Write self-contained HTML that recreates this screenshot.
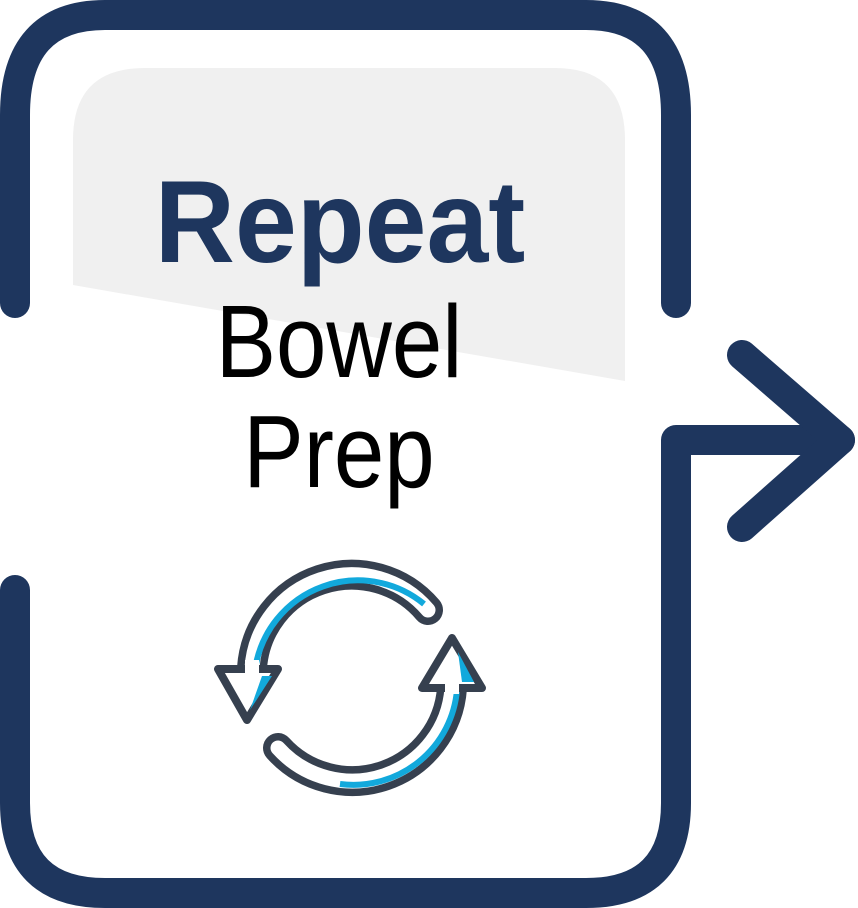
<!DOCTYPE html>
<html><head><meta charset="utf-8"><style>
html,body{margin:0;padding:0;background:#fff;}
svg{display:block;}
text{font-family:"Liberation Sans",sans-serif;}
</style></head><body>
<svg width="858" height="908" viewBox="0 0 858 908" xmlns="http://www.w3.org/2000/svg">
<path d="M73 140 Q73 68 145 68 L555 68 Q625 68 625 140 L625 381 L73 285 Z" fill="#f0f0f0"/>
<g fill="none" stroke="#1e365e" stroke-width="30" stroke-linecap="round" stroke-linejoin="round">
<path d="M15 303 L15 115 Q15 15 105 15 L586 15 Q676 15 676 115 L676 303"/>
<path d="M15 590 L15 803 Q15 893 105 893 L586 893 Q676 893 676 803 L676 440 L840 440"/>
<path d="M742 355 L840 440 L742 527"/>
</g>
<text x="340" y="262" text-anchor="middle" font-size="117" font-weight="bold" fill="#1e365e" transform="translate(340 0) scale(0.95 1) translate(-340 0)">Repeat</text>
<text x="339" y="377" text-anchor="middle" font-size="103" fill="#000" transform="translate(339 0) scale(0.88 1) translate(-339 0)">Bowel</text>
<text x="339" y="487" text-anchor="middle" font-size="103" fill="#000" transform="translate(339 0) scale(0.88 1) translate(-339 0)">Prep</text>
<g fill="none" stroke-linecap="round">
<path d="M428 610 A100 100 0 0 0 252 668" stroke="#36404f" stroke-width="30"/>
<path d="M428 610 A100 100 0 0 0 252 668" stroke="#fff" stroke-width="15"/>
<path d="M424 604 A104 104 0 0 0 256 664" stroke="#12a9dc" stroke-width="6" stroke-linecap="butt"/>
<path d="M278 748 A100 100 0 0 0 452 688" stroke="#36404f" stroke-width="30"/>
<path d="M278 748 A100 100 0 0 0 452 688" stroke="#fff" stroke-width="15"/>
<path d="M340 784 A104 104 0 0 0 457 690" stroke="#12a9dc" stroke-width="6" stroke-linecap="butt"/>
</g>
<g stroke="#36404f" stroke-width="8" stroke-linejoin="round" fill="#fff">
<polygon points="218,669 278,669 247,720"/>
<polygon points="422,688 482,688 452,638"/>
</g>
<polygon points="262,676 272,676 250,710" fill="#12a9dc"/>
<polygon points="458,652 474,682 462,682" fill="#12a9dc"/>
<rect x="245" y="660" width="14" height="14" fill="#fff"/>
<rect x="445" y="680" width="14" height="14" fill="#fff"/>
</svg>
</body></html>
